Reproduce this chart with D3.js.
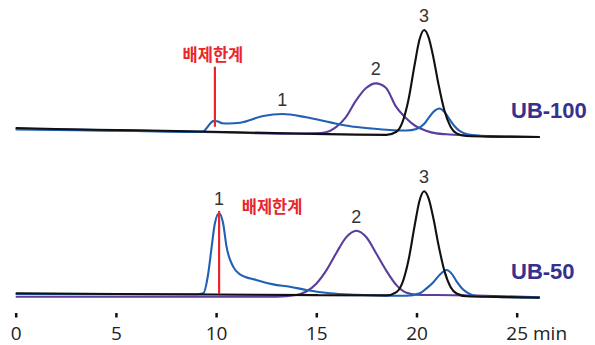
<!DOCTYPE html>
<html>
<head>
<meta charset="utf-8">
<script src="https://cdn.jsdelivr.net/npm/d3@7"></script>
<style>
  body { margin: 0; background: #fff; }
  svg { display: block; }
</style>
</head>
<body>
<script>
// retention time (min), signal (arbitrary units, 0..100 per panel)
var topBlack = [[0,10.9],[2,10.0],[5,9.1],[8,8.2],[11,7.0],[14,5.9],[17,4.9],[18.5,4.7],[19.0,7.5],[19.3,16.2],[19.6,36.6],[19.9,67.7],[20.15,91.3],[20.38,100],[20.6,93.6],[20.85,74.4],[21.1,50.4],[21.4,26.3],[21.7,12.1],[22.0,6.0],[22.5,3.6],[24,3.0],[26.15,2.7]];
var topPurple = [[0,10.3],[5,8.8],[10,7.0],[14,5.8],[15,6.0],[15.47,7.0],[15.97,11.5],[16.47,20.5],[16.97,35.5],[17.47,47],[17.97,51.5],[18.47,47.5],[18.97,30.5],[19.47,20],[19.97,12.5],[20.47,8.5],[21.0,6.0],[21.5,5.2],[22.5,4.2],[24,3.3],[26.15,2.7]];
var topBlue = [[0,9.5],[3,8.8],[6,8.2],[9.0,7.4],[9.35,7.6],[9.6,12.5],[9.85,17.2],[10.05,17.0],[10.3,15.3],[10.6,15.0],[11.2,15.7],[12.35,21.8],[13.3,23.6],[14.5,20.6],[15.7,16.0],[16.7,12.5],[17.68,10.6],[18.67,9.1],[19.5,8.6],[20.0,10],[20.4,15],[20.65,21.2],[20.9,26.5],[21.13,28.6],[21.4,25.5],[21.67,18.2],[21.9,12.5],[22.17,8.0],[22.6,5.0],[23.5,3.5],[26.15,2.7]];

var botBlack = [[0,6.1],[5,5.5],[10,5.0],[15,4.4],[18.5,4.2],[19.0,7.2],[19.3,15.8],[19.6,36.1],[19.9,66.8],[20.15,90.3],[20.38,98.8],[20.6,92.6],[20.85,73.6],[21.1,49.8],[21.4,26.0],[21.7,11.9],[22.0,5.9],[22.5,3.4],[24,2.8],[26.15,2.1]];
var botPurple = [[0,3.0],[5,3.0],[10,3.0],[13,3.1],[14.0,4.6],[14.5,7.7],[15.0,14.8],[15.5,26.9],[16.0,42.8],[16.5,57.2],[17.0,63],[17.5,57],[18.0,42],[18.5,26.5],[19.0,13.5],[19.5,6.5],[20.0,4.8],[21,4.5],[23,4.0],[26.15,2.5]];
var botBlue = [[0,5.5],[5,5.3],[9.0,5.2],[9.36,6.1],[9.61,24.3],[9.78,48.5],[9.94,69.7],[10.15,78.8],[10.35,69.7],[10.52,48.5],[10.85,30.3],[11.19,23.3],[12.0,18.2],[12.85,14.2],[13.68,12.1],[14.51,9.1],[15.68,6.1],[17,4.8],[18.5,4.0],[19.5,3.8],[20.17,6.1],[20.5,10.6],[20.83,16],[21.16,23],[21.5,27.3],[21.75,24],[22.0,17],[22.3,10],[22.6,6],[23.0,3.6],[24,2.8],[26.15,2.3]];

var tickValues = [0, 5, 10, 15, 20, 25];
var panelNames = ["UB-100", "UB-50"];
var exclLabel = "배제한계";
// exclusion limit marker: time, top and bottom of the red line
var exclTime = [9.94, 10.15];
var exclFrom = [66.6, 80.9];
var exclTo = [12, 5.5];
// peak labels: name, time, peak height
var topPeaks = [["1", 13.3, 23.6], ["2", 17.97, 51.5], ["3", 20.38, 100]];
var botPeaks = [["1", 10.15, 79.5], ["2", 17.0, 63], ["3", 20.38, 98.8]];

var svg = d3.select("body").append("svg").attr("width", 595).attr("height", 345);
svg.append("rect").attr("width", 595).attr("height", 345).attr("fill", "#fff");

var x = d3.scaleLinear().domain([0, 25]).range([15.7, 516.7]);
var yTop = d3.scaleLinear().domain([0, 100]).range([140, 30]);
var yBot = d3.scaleLinear().domain([0, 100]).range([300, 190]);

var colBlack = "#111", colPurple = "#5a3d9c", colBlue = "#2160b4", colRed = "#e8262d", colName = "#36318f";

function drawPanel(y, traces, peaks, i) {
  var g = svg.append("g");
  var line = d3.line()
    .x(function (d) { return x(d[0]); })
    .y(function (d) { return y(d[1]); })
    .curve(d3.curveMonotoneX);

  traces.forEach(function (tr) {
    g.append("path").attr("d", line(tr[0]))
      .attr("fill", "none").attr("stroke", tr[1])
      .attr("stroke-width", 2.1).attr("stroke-linejoin", "round");
  });

  // red exclusion line
  g.append("line")
    .attr("x1", x(exclTime[i])).attr("x2", x(exclTime[i]))
    .attr("y1", y(exclFrom[i])).attr("y2", y(exclTo[i]))
    .attr("stroke", colRed).attr("stroke-width", 2.2);

  g.selectAll("text.peak").data(peaks).enter().append("text")
    .attr("class", "peak")
    .attr("x", function (d) { return x(d[1]); })
    .attr("y", function (d) { return y(d[2]) - 8; })
    .attr("text-anchor", "middle")
    .attr("font-family", "Liberation Sans, Arial, sans-serif")
    .attr("font-size", 18).attr("fill", "#333")
    .text(function (d) { return d[0]; });

  g.append("text")
    .attr("x", 511).attr("y", i == 0 ? 118 : 278.5)
    .attr("font-family", "Liberation Sans, Arial, sans-serif")
    .attr("font-weight", "bold").attr("font-size", 22)
    .attr("fill", colName)
    .text(panelNames[i]);
  return g;
}

drawPanel(yTop, [[topPurple, colPurple], [topBlue, colBlue], [topBlack, colBlack]], topPeaks, 0);
drawPanel(yBot, [[botPurple, colPurple], [botBlue, colBlue], [botBlack, colBlack]], botPeaks, 1);

// korean labels for the exclusion limit
svg.append("text")
  .attr("x", x(exclTime[0]) - 2).attr("y", 61)
  .attr("text-anchor", "middle")
  .attr("font-family", "Noto Sans CJK KR").attr("font-weight", "bold")
  .attr("font-size", 16.5).attr("fill", colRed)
  .text(exclLabel);
svg.append("text")
  .attr("x", x(exclTime[1]) + 53).attr("y", 213)
  .attr("text-anchor", "middle")
  .attr("font-family", "Noto Sans CJK KR").attr("font-weight", "bold")
  .attr("font-size", 16.5).attr("fill", colRed)
  .text(exclLabel);

// time axis
var axis = svg.append("g").attr("transform", "translate(0,313)")
  .call(d3.axisBottom(x).tickValues(tickValues).tickSize(4.5).tickPadding(9));
axis.select(".domain").remove();
axis.selectAll(".tick line").attr("stroke", "#111").attr("stroke-width", 2.5);
axis.selectAll(".tick text")
  .attr("font-family", "Open Sans, sans-serif").attr("font-size", 19)
  .attr("fill", "#222").attr("y", 27).attr("dy", 0);
svg.append("text")
  .attr("x", 533).attr("y", 340)
  .attr("font-family", "Open Sans, sans-serif").attr("font-size", 19)
  .attr("fill", "#222").text("min");
</script>
</body>
</html>
